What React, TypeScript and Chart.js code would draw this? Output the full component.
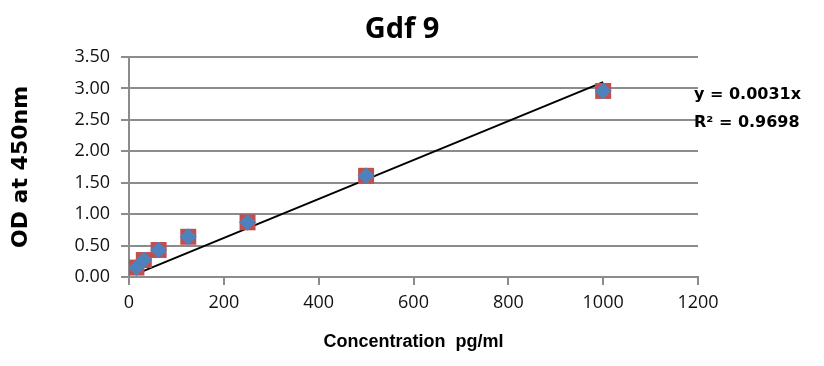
import React, { useEffect, useRef } from "react";
import { Chart, registerables } from "chart.js";

Chart.register(...registerables);

const concentrations = [15.6, 31.25, 62.5, 125, 250, 500, 1000];
const odValues = [0.15, 0.27, 0.43, 0.64, 0.87, 1.61, 2.96];
const trendX = [15.6, 1000];
const trendY = [0.05, 3.1];
const xTicks = [0, 200, 400, 600, 800, 1000, 1200];
const yTicks = [0, 0.5, 1, 1.5, 2, 2.5, 3, 3.5];
const chartTitle = "Gdf 9";
const equationLines = ["y = 0.0031x", "R² = 0.9698"];
const xTitle = "Concentration  pg/ml";
const yTitle = "OD at 450nm";

const GRID = "#8c8c8c";

export default function App() {
  const ref = useRef<HTMLCanvasElement | null>(null);
  useEffect(() => {
    if (!ref.current) return;
    const pts = concentrations.map((x, i) => ({ x, y: odValues[i] }));
    const trend = trendX.map((x, i) => ({ x, y: trendY[i] }));
    const textPlugin = {
      id: "texts",
      afterDraw(chart: any) {
        const ctx = chart.ctx;
        ctx.save();
        ctx.fillStyle = "#000";
        ctx.textAlign = "center";
        ctx.textBaseline = "alphabetic";
        ctx.font = "bold 29px 'Open Sans', sans-serif";
        ctx.fillText(chartTitle, 394, 30);
        ctx.textAlign = "left";
        ctx.font = "bold 16px 'DejaVu Sans', sans-serif";
        ctx.fillText(equationLines[0], 686, 91);
        ctx.fillText(equationLines[1], 686, 119);
        ctx.restore();
      },
    };
    const chart = new Chart(ref.current, {
      type: "scatter",
      data: {
        datasets: [
          {
            type: "line",
            data: trend,
            borderColor: "#000",
            borderWidth: 2,
            pointRadius: 0,
            fill: false,
            order: 3,
          } as any,
          {
            data: pts,
            pointStyle: "rectRot",
            pointRadius: 8,
            backgroundColor: "#4F81BD",
            borderColor: "#4F81BD",
            borderWidth: 1,
            order: 1,
          },
          {
            data: pts,
            pointStyle: "rect",
            pointRadius: 11.3,
            backgroundColor: "#C0504D",
            borderWidth: 0,
            order: 2,
          },
        ],
      },
      options: {
        responsive: false,
        animation: false,
        layout: { padding: { top: 49, right: 118, left: 0, bottom: 0 } },
        plugins: {
          legend: { display: false },
          tooltip: { enabled: false },
          title: { display: false },
        },
        scales: {
          x: {
            type: "linear",
            min: 0,
            max: 1200,
            afterBuildTicks: (s: any) => {
              s.ticks = xTicks.map((v) => ({ value: v }));
            },
            afterFit: (s: any) => {
              s.height = 81;
            },
            grid: {
              drawOnChartArea: false,
              drawTicks: true,
              tickLength: 8,
              color: GRID,
              lineWidth: 2,
            },
            border: { display: true, color: GRID, width: 2 },
            ticks: {
              padding: 7,
              color: "#111",
              font: { family: "'Open Sans', sans-serif", size: 18 },
              maxRotation: 0,
              callback: (v: any) => String(v),
            },
            title: {
              display: true,
              text: xTitle,
              color: "#000",
              font: { family: "'Liberation Sans', Arial, sans-serif", size: 18, weight: "bold" },
              padding: { top: 0, bottom: 5 },
            },
          },
          y: {
            type: "linear",
            min: 0,
            max: 3.5,
            afterBuildTicks: (s: any) => {
              s.ticks = yTicks.map((v) => ({ value: v }));
            },
            afterFit: (s: any) => {
              s.width = 121;
            },
            grid: {
              drawTicks: true,
              tickLength: 8,
              color: GRID,
              lineWidth: 2,
            },
            border: { display: true, color: GRID, width: 2 },
            ticks: {
              padding: 11,
              color: "#111",
              font: { family: "'Open Sans', sans-serif", size: 18 },
              callback: (v: any) => Number(v).toFixed(2),
            },
            title: {
              display: true,
              text: yTitle,
              color: "#000",
              font: { family: "'DejaVu Sans', sans-serif", size: 22, weight: "bold" },
              padding: { top: 0, bottom: 0 },
            },
          },
        },
      },
      plugins: [textPlugin],
    });
    return () => chart.destroy();
  }, []);
  return (
    <div style={{ width: 808, height: 350 }}>
      <canvas ref={ref} width={808} height={350} style={{ display: "block" }} />
    </div>
  );
}
